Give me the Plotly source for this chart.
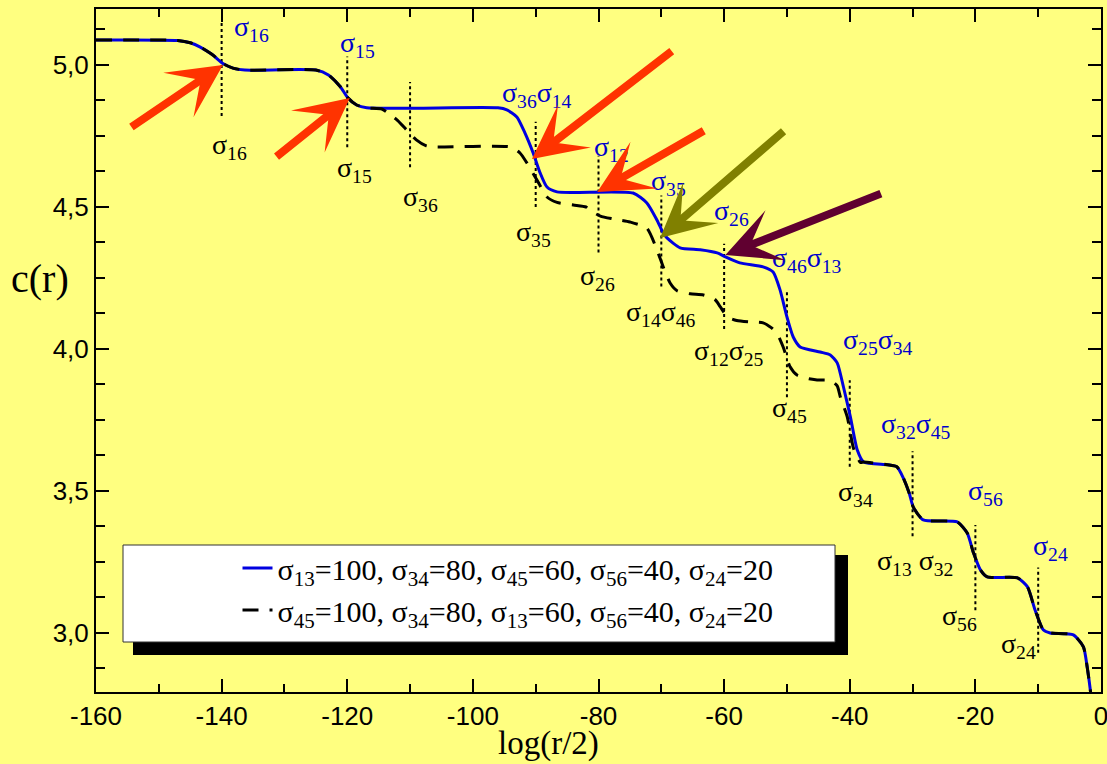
import plotly.graph_objects as go

# ---------------- data ----------------
blue_x = [-160, -147, -145, -143.4, -141.4, -139.8, -138.2, -136.3, -125, -123, -121.1, -119.9,
          -118.5, -116.9, -96, -94.6, -93, -91.7, -90.4, -89.3, -88.2, -86.6, -74.5, -72.3,
          -70.7, -69.7, -69.1, -67, -63.8, -61.1, -59.8, -57.5, -53.8, -52.2, -51.1, -50,
          -49, -47.9, -44.7, -43.1, -42, -41, -39.9, -38.8, -37.8, -34, -32.5, -31.5, -30.5,
          -29.9, -28.3, -22.9, -21.3, -20.3, -19.2, -18.1, -13.3, -11.7, -10.5, -9.2, -8.1,
          -4.4, -2.8, -2.2, -1.7, -1.5]
blue_y = [5.088, 5.086, 5.078, 5.063, 5.035, 5.005, 4.989, 4.982, 4.982, 4.965, 4.923, 4.884,
          4.859, 4.849, 4.849, 4.842, 4.817, 4.760, 4.690, 4.620, 4.570, 4.553, 4.549, 4.514,
          4.454, 4.408, 4.391, 4.356, 4.349, 4.338, 4.324, 4.303, 4.289, 4.271, 4.208, 4.113,
          4.042, 4.007, 3.989, 3.979, 3.951, 3.866, 3.761, 3.644, 3.602, 3.592, 3.585, 3.547, 3.49,
          3.444, 3.398, 3.391, 3.352, 3.282, 3.222, 3.197, 3.194, 3.162, 3.081, 3.011, 3.000,
          2.993, 2.951, 2.880, 2.799, 2.76]

black_x = [-160, -147, -145, -143.4, -141.4, -139.8, -138.2, -136.3, -125, -123, -121.1, -119.9,
           -118.5, -116.9, -114.5, -113.5, -112, -110.5, -109, -107.5, -106, -94, -92.5, -91.4,
           -89.8, -88.2, -86.6, -84, -82, -81.5, -79.7, -77.7, -75, -72.3, -70.7, -69.7, -68.6,
           -67.5, -65.4, -63.3, -61.5, -60.6, -59.5, -58, -56, -53.8, -52.5, -51.6, -50.6, -49.5,
           -48.4, -46.5, -45.2, -43.1, -42, -41.5, -40.4, -39.9, -39.4, -38.3, -37.8, -34, -32.5,
           -31.5, -30.5, -29.9, -28.3, -22.9, -21.3, -20.3, -19.2, -18.1, -13.3, -11.7, -10.5,
           -9.2, -8.1, -4.4, -2.8, -2.2, -1.7, -1.5]
black_y = [5.088, 5.086, 5.078, 5.063, 5.035, 5.005, 4.989, 4.982, 4.982, 4.965, 4.923, 4.884,
           4.859, 4.849, 4.845, 4.831, 4.805, 4.770, 4.736, 4.716, 4.711, 4.711, 4.690, 4.655,
           4.595, 4.535, 4.516, 4.507, 4.500, 4.490, 4.468, 4.458, 4.447, 4.425, 4.349, 4.289, 4.232,
           4.205, 4.194, 4.190, 4.175, 4.148, 4.113, 4.100, 4.095, 4.092, 4.075, 4.056, 4.007, 3.937,
           3.908, 3.895, 3.891, 3.889, 3.870, 3.831, 3.761, 3.704, 3.650, 3.600, 3.602, 3.592, 3.585,
           3.547, 3.49, 3.444, 3.398, 3.391, 3.352, 3.282, 3.222, 3.197, 3.194, 3.162, 3.081,
           3.011, 3.000, 2.993, 2.951, 2.880, 2.799, 2.76]

# dotted vertical markers
vline_x = [-140, -120, -110, -90, -80, -70, -60, -50, -40, -30, -20, -10]
vline_y0 = [4.82, 4.71, 4.64, 4.50, 4.34, 4.22, 4.07, 3.83, 3.585, 3.34, 3.08, 2.93]
vline_y1 = [5.15, 5.03, 4.94, 4.80, 4.68, 4.54, 4.37, 4.21, 3.89, 3.64, 3.38, 3.23]

# labels of the transitions (blue: solid curve, black: dashed curve)
blue_lab = ["σ<sub>16</sub>", "σ<sub>15</sub>", "σ<sub>36</sub>σ<sub>14</sub>", "σ<sub>12</sub>",
            "σ<sub>35</sub>", "σ<sub>26</sub>", "σ<sub>46</sub>σ<sub>13</sub>",
            "σ<sub>25</sub>σ<sub>34</sub>", "σ<sub>32</sub>σ<sub>45</sub>", "σ<sub>56</sub>",
            "σ<sub>24</sub>"]
blue_lab_x = [-135.2, -118.3, -89.8, -78.0, -68.8, -58.9, -46.8, -35.5, -29.4, -18.4, -8.1]
blue_lab_y = [5.128, 5.072, 4.896, 4.706, 4.586, 4.480, 4.315, 4.026, 3.730, 3.494, 3.301]

black_lab = ["σ<sub>16</sub>", "σ<sub>15</sub>", "σ<sub>36</sub>", "σ<sub>35</sub>",
             "σ<sub>26</sub>", "σ<sub>14</sub>σ<sub>46</sub>", "σ<sub>12</sub>σ<sub>25</sub>",
             "σ<sub>45</sub>", "σ<sub>34</sub>", "σ<sub>13</sub> σ<sub>32</sub>",
             "σ<sub>56</sub>", "σ<sub>24</sub>"]
black_lab_x = [-138.7, -118.9, -108.4, -90.3, -80.1, -70.0, -59.2, -49.6, -39.1, -29.6, -22.6, -13.2]
black_lab_y = [4.714, 4.633, 4.528, 4.408, 4.253, 4.126, 3.989, 3.788, 3.492, 3.249, 3.056, 2.957]

# arrows: tail -> tip
arrow_tail_x = [-154.6, -131.5, -68.1, -63.0, -50.3, -34.8]
arrow_tail_y = [4.778, 4.673, 5.053, 4.771, 4.771, 4.549]
arrow_tip_x = [-139.8, -119.6, -90.6, -80.2, -70.2, -59.8]
arrow_tip_y = [5.000, 4.884, 4.669, 4.553, 4.391, 4.331]
arrow_color = ["#FF3300", "#FF3300", "#FF3300", "#FF3300", "#808000", "#600030"]

x_ticks = [-160, -140, -120, -100, -80, -60, -40, -20, 0]
x_ticktext = ["-160", "-140", "-120", "-100", "-80", "-60", "-40", "-20", "0"]
y_ticks = [3.0, 3.5, 4.0, 4.5, 5.0]
y_ticktext = ["3,0", "3,5", "4,0", "4,5", "5,0"]

name_solid = "σ<sub>13</sub>=100, σ<sub>34</sub>=80, σ<sub>45</sub>=60, σ<sub>56</sub>=40, σ<sub>24</sub>=20"
name_dash = "σ<sub>45</sub>=100, σ<sub>34</sub>=80, σ<sub>13</sub>=60, σ<sub>56</sub>=40, σ<sub>24</sub>=20"

# ---------------- figure ----------------
BG = "#FFFF80"
SERIF = "Liberation Serif, Times New Roman, serif"
SANS = "Liberation Sans, Arial, sans-serif"

fig = go.Figure()

dx, dy = [], []
for x, a, b in zip(vline_x, vline_y0, vline_y1):
    dx += [x, x, None]
    dy += [a, b, None]
fig.add_trace(go.Scatter(x=dx, y=dy, mode="lines", showlegend=False, hoverinfo="skip",
                         line=dict(color="black", width=2, dash="dot")))

fig.add_trace(go.Scatter(x=blue_x, y=blue_y, mode="lines", name=name_solid,
                         line=dict(color="#0000E0", width=3, shape="spline", smoothing=0.6)))
fig.add_trace(go.Scatter(x=black_x, y=black_y, mode="lines", name=name_dash,
                         line=dict(color="black", width=3, dash="16px,11px",
                                   shape="spline", smoothing=0.6)))

annotations = []
for t, x, y in zip(blue_lab, blue_lab_x, blue_lab_y):
    annotations.append(dict(x=x, y=y, xref="x", yref="y", text=t, showarrow=False,
                            xanchor="center", yanchor="middle",
                            font=dict(family=SERIF, size=28, color="#0000CC")))
for t, x, y in zip(black_lab, black_lab_x, black_lab_y):
    annotations.append(dict(x=x, y=y, xref="x", yref="y", text=t, showarrow=False,
                            xanchor="center", yanchor="middle",
                            font=dict(family=SERIF, size=28, color="black")))
for tx, ty, hx, hy, c in zip(arrow_tail_x, arrow_tail_y, arrow_tip_x, arrow_tip_y, arrow_color):
    annotations.append(dict(x=hx, y=hy, ax=tx, ay=ty, xref="x", yref="y", axref="x", ayref="y",
                            text="", showarrow=True, arrowhead=3, arrowsize=1.12, arrowwidth=8,
                            arrowcolor=c, standoff=0))

# figure is a bit taller than the window so the bottom title can sit at the edge
L, R, T, W, H = 96, 6, 9, 1107, 790
PLOT_BOTTOM = 692
B = H - PLOT_BOTTOM
pw, ph = W - L - R, PLOT_BOTTOM - T

def px_x(p):
    return (p - L) / pw

def px_y(p):
    return (PLOT_BOTTOM - p) / ph

annotations.append(dict(x=px_x(40), y=px_y(278), xref="paper", yref="paper", text="c(r)",
                        xanchor="center", yanchor="middle", showarrow=False,
                        font=dict(family=SERIF, size=40, color="black")))
annotations.append(dict(x=px_x(548), y=px_y(743), xref="paper", yref="paper", text="log(r/2)",
                        xanchor="center", yanchor="middle", showarrow=False,
                        font=dict(family=SERIF, size=33, color="black")))

def px2paper(x0, y0, x1, y1):
    return dict(x0=px_x(x0), x1=px_x(x1), y0=px_y(y1), y1=px_y(y0))

shapes = [
    dict(type="rect", xref="paper", yref="paper", fillcolor="black", line=dict(width=0),
         **px2paper(133, 555, 848, 655)),
    dict(type="rect", xref="paper", yref="paper", fillcolor="white",
         line=dict(color="#333333", width=1), **px2paper(123, 545, 835, 642)),
]

axis_common = dict(showline=True, linecolor="black", linewidth=2, mirror="ticks",
                   ticks="inside", tickcolor="black", tickwidth=2, showgrid=False,
                   zeroline=False, automargin=False, ticklabeloverflow="allow",
                   tickfont=dict(family=SANS, size=26, color="black"))

fig.update_layout(
    width=W, height=H,
    margin=dict(l=L, r=R, t=T, b=B, autoexpand=False),
    paper_bgcolor=BG, plot_bgcolor=BG,
    xaxis=dict(range=[-160, 0], tickmode="array", tickvals=x_ticks, ticktext=x_ticktext,
               ticklen=13, minor=dict(dtick=10, tick0=0, ticks="inside", ticklen=8,
                                      tickcolor="black", tickwidth=2, showgrid=False),
               **axis_common),
    yaxis=dict(range=[2.792, 5.197], tickmode="array", tickvals=y_ticks, ticktext=y_ticktext,
               ticklen=13, minor=dict(dtick=0.125, tick0=0, ticks="inside", ticklen=9,
                                      tickcolor="black", tickwidth=2, showgrid=False),
               **axis_common),
    showlegend=True,
    legend=dict(x=px_x(508), y=px_y(589), xanchor="center", yanchor="middle",
                bgcolor="rgba(0,0,0,0)", borderwidth=0,
                font=dict(family=SERIF, size=30, color="black"), tracegroupgap=0),
    annotations=annotations,
    shapes=shapes,
)

fig.write_html(
    "out.html",
    config={"displayModeBar": False},
    post_script="document.body.style.margin='0';document.body.style.overflow='hidden';"
                "document.body.style.background='" + BG + "';",
)
